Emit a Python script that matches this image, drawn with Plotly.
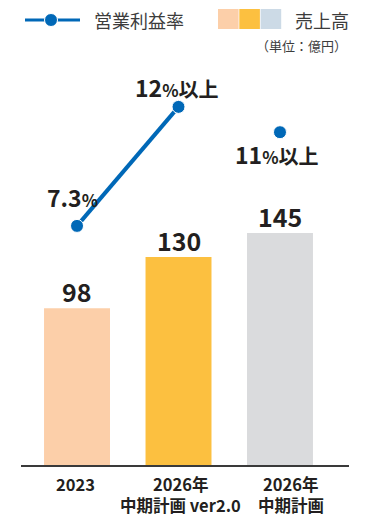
import plotly.graph_objects as go

categories = ["2023", "2026年<br>中期計画 ver2.0", "2026年<br>中期計画"]
sales = [98, 130, 145]
rate = [7.3, 12, 11]
rate_labels = ["7.3<span style='font-size:17px'>%</span>",
               "12<span style='font-size:17px'>%</span><span style='font-size:20px'>以上</span>",
               "11<span style='font-size:17px'>%</span><span style='font-size:20px'>以上</span>"]
bar_colors = ["#FCCFA9", "#FCC040", "#DADBDD"]
xpos = [0, 1, 2]

FONT = "Noto Sans CJK JP"
TXT = "#231F20"
BLUE = "#0068B7"

fig = go.Figure()
fig.add_trace(go.Bar(
    x=xpos, y=sales, width=0.65, marker=dict(color=bar_colors, line=dict(width=0)),
    showlegend=False, hoverinfo="skip"))
fig.add_trace(go.Scatter(
    x=xpos[:2], y=rate[:2], mode="lines", yaxis="y2",
    line=dict(color=BLUE, width=4), showlegend=False, hoverinfo="skip", cliponaxis=False))
fig.add_trace(go.Scatter(
    x=xpos, y=rate, mode="markers", yaxis="y2",
    marker=dict(color=BLUE, size=13, line=dict(color="white", width=1)),
    showlegend=False, hoverinfo="skip", cliponaxis=False))

# bar value labels
for i, v in enumerate(sales):
    fig.add_annotation(x=xpos[i], y=v, xref="x", yref="y", text=str(v), showarrow=False,
                       xanchor="center", yanchor="middle", yshift=17,
                       font=dict(family=FONT, size=25, color=TXT, weight="bold"))

shifts = [(-5, 29), (-2, 20), (-3, -22)]
for i, (xs, ys) in enumerate(shifts):
    fig.add_annotation(x=xpos[i], y=rate[i], xref="x", yref="y2", text=rate_labels[i],
                       showarrow=False, xshift=xs, yshift=ys, xanchor="center", yanchor="middle",
                       font=dict(family=FONT, size=23, color=TXT, weight="bold"))

# category labels (each line placed separately for wider line spacing)
cat_shift = [-2, 2, 11]
for i, lab in enumerate(categories):
    for j, line in enumerate(lab.split("<br>")):
        fig.add_annotation(x=xpos[i], y=0, xref="x", yref="paper", text=line, showarrow=False,
                           xanchor="center", yanchor="middle", yshift=-19 - 21 * j,
                           xshift=cat_shift[i], borderpad=0,
                           font=dict(family=FONT, size=16.5, color=TXT, weight="bold"))

# legend (manual)
ly = (465 - 20) / 405
fig.add_shape(type="line", xref="paper", yref="paper", x0=(25-21)/328, x1=(80-21)/328,
              y0=ly, y1=ly, line=dict(color=BLUE, width=3))
fig.add_shape(type="circle", xref="paper", yref="paper", xsizemode="pixel", ysizemode="pixel",
              xanchor=(51-21)/328, yanchor=ly, x0=-6.5, x1=6.5, y0=-6.5, y1=6.5,
              fillcolor=BLUE, line=dict(color="white", width=1))
fig.add_annotation(x=(92-21)/328, y=ly, xref="paper", yref="paper", text="営業利益率",
                   showarrow=False, xanchor="left", yanchor="middle",
                   font=dict(family=FONT, size=18, color="#3C3C3C"))
sw_colors = ["#FCCFA9", "#FCC040", "#CCDAE6"]
for k, c in enumerate(sw_colors):
    x0 = 218 + k * 21.3
    fig.add_shape(type="rect", xref="paper", yref="paper", x0=(x0-21)/328, x1=(x0+20.6-21)/328,
                  y0=(465-29)/405, y1=(465-9)/405, fillcolor=c, line=dict(width=0))
fig.add_annotation(x=(293-21)/328, y=ly, xref="paper", yref="paper", text="売上高",
                   showarrow=False, xanchor="left", yanchor="middle",
                   font=dict(family=FONT, size=18, color="#3C3C3C"))
fig.add_annotation(x=(349-21)/328, y=(465-45)/405, xref="paper", yref="paper", text="（単位：億円）",
                   showarrow=False, xanchor="right", yanchor="middle",
                   font=dict(family=FONT, size=13, color="#3C3C3C"))

fig.update_layout(
    width=370, height=517, margin=dict(l=21, r=21, t=60, b=52, autoexpand=False),
    paper_bgcolor="white", plot_bgcolor="white",
    xaxis=dict(range=[-0.552, 2.68], tickvals=xpos, showticklabels=False, automargin=False,
               showgrid=False, zeroline=False, showline=True, linecolor="#3A3A3A", linewidth=1.5,
               ticks=""),
    yaxis=dict(range=[0, 253.1], visible=False, showgrid=False, zeroline=False, automargin=False),
    yaxis2=dict(range=[-2.14, 13.85], overlaying="y", visible=False, showgrid=False, zeroline=False),
    bargap=0.3,
)
fig.write_html("out.html")
